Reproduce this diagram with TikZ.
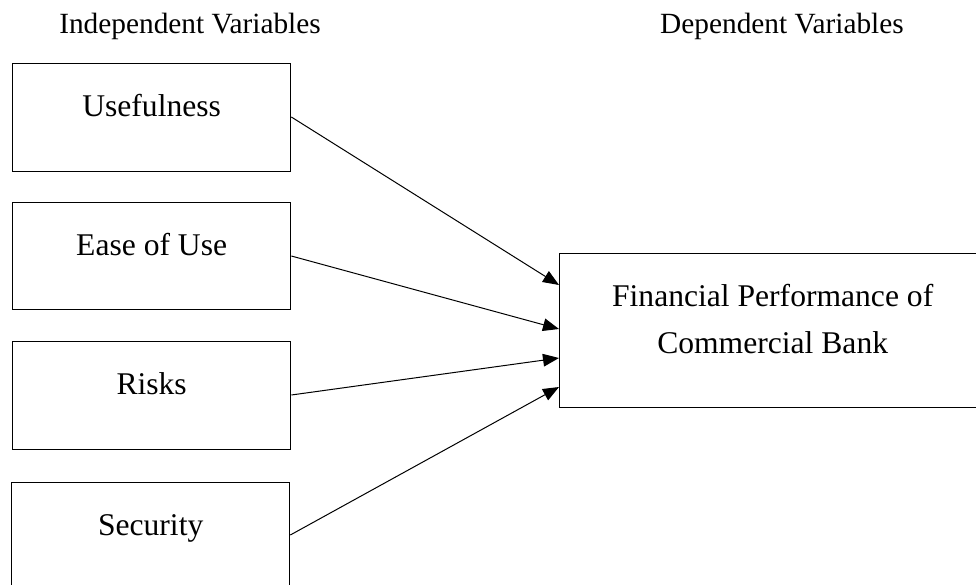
\documentclass[tikz,border=0pt]{standalone}
\usepackage{fontspec}
\setmainfont{Liberation Serif}
\usetikzlibrary{arrows.meta}
% one drawing unit
\newdimen\pxu \pxu=0.75pt
\begin{document}
\begin{tikzpicture}[x=0.75pt,y=-0.75pt,
  heading/.style={font=\fontsize{22pt}{26pt}\selectfont, anchor=base, inner sep=0pt},
  varbox/.style={draw, line width=1pt, rectangle, inner sep=0pt, anchor=north west,
    minimum width=278\pxu, text height=53\pxu, text depth=55\pxu,
    font=\fontsize{23.7pt}{35.25pt}\selectfont},
  link/.style={line width=0.75pt, -{Triangle[length=12pt,width=9.5pt]}}]
\useasboundingbox (0,0) rectangle (976,585);
\clip (0,0) rectangle (976,585);

% column headings
\node[heading] (indep) at (190,34) {Independent Variables};
\node[heading] (dep) at (782,34) {Dependent Variables};

% independent variables
\node[varbox] (use) at (12,63) {Usefulness};
\node[varbox, text depth=54\pxu] (ease) at (12,202) {Ease of Use};
\node[varbox] (risk) at (12,341) {Risks};
\node[varbox] (sec) at (11,482) {Security};

% dependent variable (baseline of the node text is its last line)
\node[varbox, align=center, minimum width=426\pxu, text height=100\pxu, text depth=54\pxu] (fin) at (559,253)
  {Financial Performance of\\Commercial Bank};

% relations
\draw[link] ([yshift=-54\pxu]use.north east) -- ([yshift=-32\pxu]fin.north west);
\draw[link] ([yshift=-54\pxu]ease.north east) -- ([yshift=-76\pxu]fin.north west);
\draw[link] ([yshift=-54\pxu]risk.north east) -- ([yshift=-105\pxu]fin.north west);
\draw[link] ([yshift=-53\pxu]sec.north east) -- ([yshift=-134\pxu]fin.north west);
\end{tikzpicture}
\end{document}
